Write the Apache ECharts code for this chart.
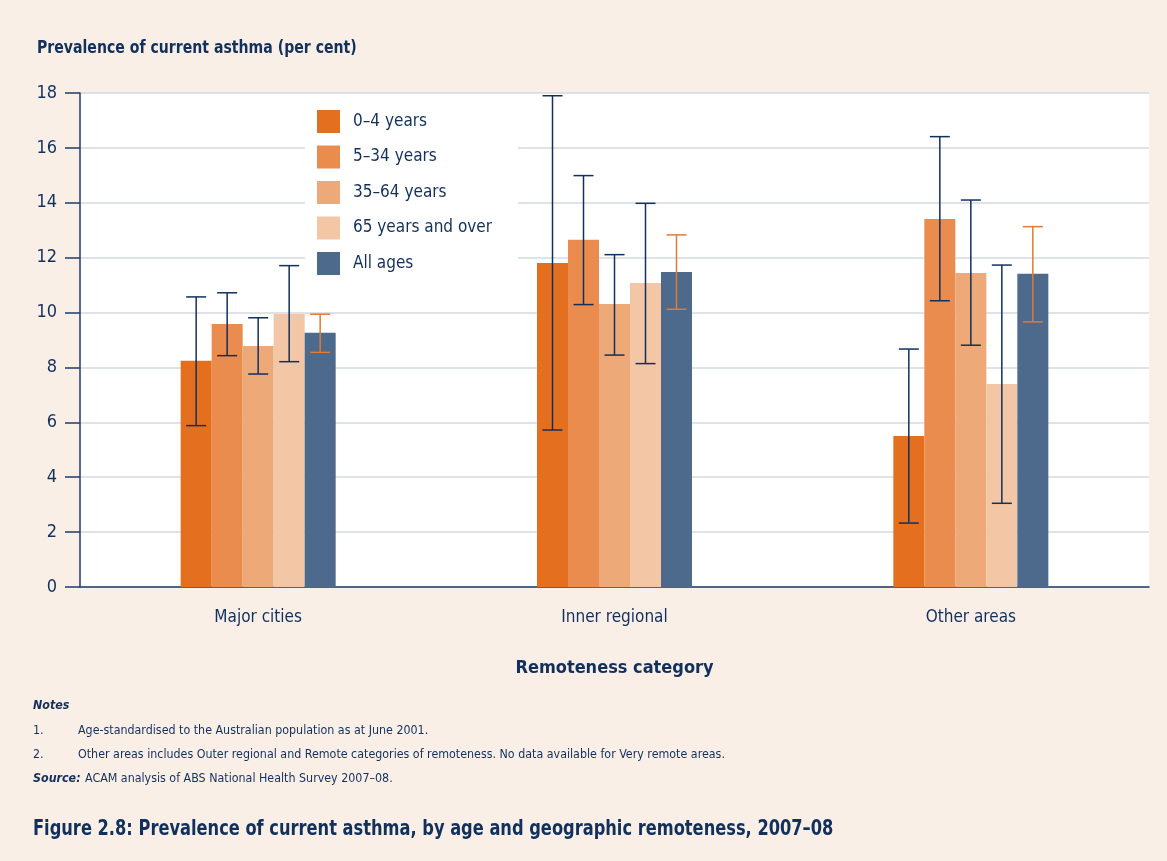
<!DOCTYPE html>
<html><head><meta charset="utf-8">
<script src="https://cdn.jsdelivr.net/npm/echarts@6/dist/echarts.min.js"></script>
<style>html,body{margin:0;padding:0;background:#faefe7;}#c{width:1167px;height:861px;}</style>
</head><body><div id="c"></div>
<script>
const categories = ['Major cities', 'Inner regional', 'Other areas'];
const seriesNames = ['0–4 years', '5–34 years', '35–64 years', '65 years and over', 'All ages'];
const val_0_4   = [8.24, 11.81, 5.50];
const val_5_34  = [9.58, 12.65, 13.41];
const val_35_64 = [8.78, 10.31, 11.44];
const val_65    = [9.95, 11.08, 7.40];
const val_all   = [9.26, 11.48, 11.41];
const low_0_4   = [5.88, 5.72, 2.33];
const high_0_4  = [10.57, 17.90, 8.67];
const low_5_34  = [8.43, 10.29, 10.43];
const high_5_34 = [10.72, 14.99, 16.41];
const low_35_64 = [7.76, 8.45, 8.81];
const high_35_64= [9.81, 12.11, 14.10];
const low_65    = [8.21, 8.14, 3.05];
const high_65   = [11.71, 13.98, 11.73];
const low_all   = [8.55, 10.12, 9.66];
const high_all  = [9.94, 12.83, 13.13];
const yTicks = [0, 2, 4, 6, 8, 10, 12, 14, 16, 18];

const values = [val_0_4, val_5_34, val_35_64, val_65, val_all];
const lows = [low_0_4, low_5_34, low_35_64, low_65, low_all];
const highs = [high_0_4, high_5_34, high_35_64, high_65, high_all];
const colors = ['#e36f1f', '#e98c4e', '#eda977', '#f3c6a5', '#4d698c'];
const errColors = ['#12305c', '#12305c', '#12305c', '#12305c', '#e07a36'];
const FONT = "'DejaVu Sans Condensed','DejaVu Sans',sans-serif";
const NAVY = '#12305c';
const BW = 31;

const chart = echarts.init(document.getElementById('c'));
const series = [];
values.forEach((v, i) => {
  series.push({
    name: seriesNames[i], type: 'bar', data: v, barWidth: BW, barGap: '0%',
    itemStyle: { color: colors[i] }, z: 2
  });
});
values.forEach((v, i) => {
  series.push({
    type: 'custom', name: 'err' + i, z: 3,
    data: categories.map((c, k) => [k, lows[i][k], highs[i][k]]),
    renderItem: function (params, api) {
      const k = api.value(0);
      const lo = api.coord([k, api.value(1)]);
      const hi = api.coord([k, api.value(2)]);
      const x = lo[0] + (i - 2) * BW;
      const cap = 10;
      const st = { stroke: errColors[i], lineWidth: 1.5 };
      return { type: 'group', children: [
        { type: 'line', shape: { x1: x, y1: hi[1], x2: x, y2: lo[1] }, style: st },
        { type: 'line', shape: { x1: x - cap, y1: hi[1], x2: x + cap, y2: hi[1] }, style: st },
        { type: 'line', shape: { x1: x - cap, y1: lo[1], x2: x + cap, y2: lo[1] }, style: st }
      ]};
    },
    encode: { x: 0, y: [1, 2] }
  });
});

function txt(x, y, text, font, sx) {
  return { type: 'text', x: x, y: y, scaleX: sx || 1,
    style: { text: text, font: font, fill: NAVY, verticalAlign: 'top' } };
}

chart.setOption({
  backgroundColor: '#faefe7',
  animation: false,
  textStyle: { fontFamily: FONT },
  grid: { left: 80, right: 18, top: 93, bottom: 274, backgroundColor: '#ffffff', show: true, borderWidth: 0 },
  legend: {
    data: seriesNames, orient: 'vertical', left: 305, top: 100,
    backgroundColor: '#ffffff', padding: [10, 26, 10, 12],
    itemWidth: 23, itemHeight: 23, itemGap: 12.5, icon: 'rect',
    textStyle: { fontFamily: FONT, fontSize: 17, color: NAVY, padding: [0, 0, 0, 8] }
  },
  xAxis: {
    type: 'category', data: categories,
    name: 'Remoteness category', nameLocation: 'middle', nameGap: 72,
    nameTextStyle: { fontFamily: FONT, fontWeight: 'bold', fontSize: 18, color: NAVY },
    axisLine: { lineStyle: { color: '#1f3d6a', width: 1.5 } },
    axisTick: { show: false },
    axisLabel: { fontFamily: FONT, fontSize: 17, color: NAVY, margin: 22 }
  },
  yAxis: {
    type: 'value', min: 0, max: 18, interval: 2,
    axisLine: { show: true, lineStyle: { color: '#1f3d6a', width: 1.5 } },
    axisTick: { show: true, length: 15, lineStyle: { color: '#1f3d6a', width: 1.5 } },
    axisLabel: { fontFamily: FONT, fontSize: 18, color: NAVY, margin: 23,
      formatter: v => yTicks.includes(v) ? String(v) : '' },
    splitLine: { lineStyle: { color: '#d3dae3', width: 1.5 } }
  },
  series: series,
  graphic: [
    txt(37, 39, 'Prevalence of current asthma (per cent)', "bold 18px " + FONT, 0.87),
    txt(33, 699, 'Notes', "italic bold 13px " + FONT, 0.95),
    txt(33, 724, '1.', "13px " + FONT, 0.95),
    txt(78, 724, 'Age-standardised to the Australian population as at June 2001.', "13px " + FONT, 0.95),
    txt(33, 748, '2.', "13px " + FONT, 0.95),
    txt(78, 748, 'Other areas includes Outer regional and Remote categories of remoteness. No data available for Very remote areas.', "13px " + FONT, 0.95),
    txt(33, 772, 'Source:', "italic bold 13px " + FONT, 0.95),
    txt(85, 772, 'ACAM analysis of ABS National Health Survey 2007–08.', "13px " + FONT, 0.95),
    txt(33, 819, 'Figure 2.8: Prevalence of current asthma, by age and geographic remoteness, 2007–08', "bold 21px " + FONT, 0.86)
  ]
});
</script></body></html>
